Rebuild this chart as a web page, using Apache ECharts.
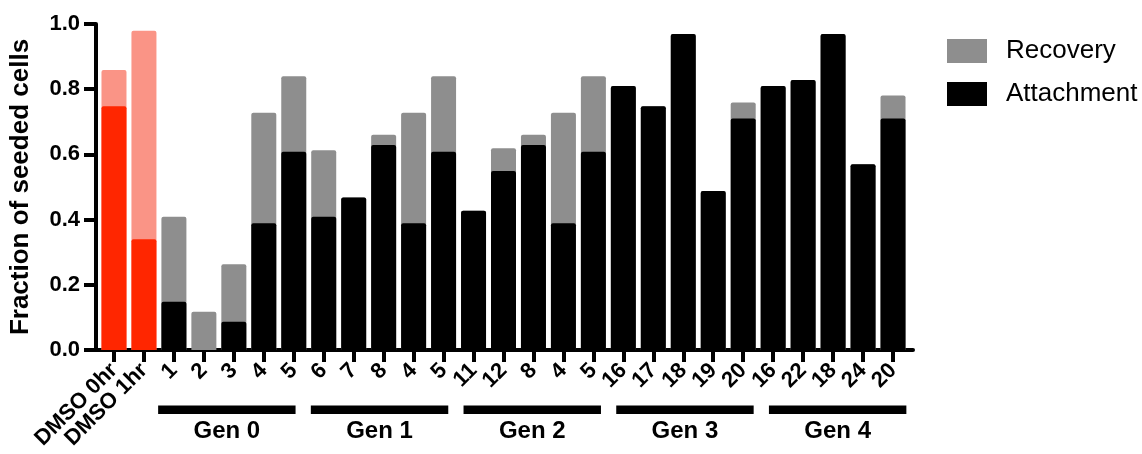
<!DOCTYPE html>
<html>
<head>
<meta charset="utf-8">
<script src="https://cdn.jsdelivr.net/npm/echarts@6/dist/echarts.min.js"></script>
<style>
  html, body { margin: 0; padding: 0; background: #fff; }
  #chart { width: 1142px; height: 454px; }
</style>
</head>
<body>
<div id="chart"></div>
<script>
// Compound labels along the x axis
const categories = ['DMSO 0hr', 'DMSO 1hr',
  '1', '2', '3', '4', '5',
  '6', '7', '8', '4', '5',
  '11', '12', '8', '4', '5',
  '16', '17', '18', '19', '20',
  '16', '22', '18', '24', '20'];

// Total fraction after recovery (drawn behind)
const recovery = [0.859, 0.979,
  0.409, 0.117, 0.263, 0.728, 0.840,
  0.613, 0.468, 0.660, 0.728, 0.840,
  0.427, 0.619, 0.660, 0.728, 0.840,
  0.810, 0.748, 0.969, 0.488, 0.759,
  0.810, 0.828, 0.969, 0.570, 0.781];

// Fraction attached (drawn in front)
const attachment = [0.748, 0.340,
  0.148, 0.000, 0.087, 0.389, 0.608,
  0.409, 0.468, 0.629, 0.389, 0.608,
  0.427, 0.549, 0.629, 0.389, 0.608,
  0.810, 0.748, 0.969, 0.488, 0.710,
  0.810, 0.828, 0.969, 0.570, 0.710];

// Generation brackets beneath the axis
const generations = ['Gen 0', 'Gen 1', 'Gen 2', 'Gen 3', 'Gen 4'];
const generationSpan = [1, 1, 1, 1, 1];

const yTicks = [0, 0.2, 0.4, 0.6, 0.8, 1.0];

const controlCount = 2;
const FONT = '"Liberation Sans", Arial, Helvetica, sans-serif';
const GREY = '#8e8e8e';
const CONTROL_LIGHT = '#fa9486';
const CONTROL_DARK = '#ff2600';

const recoveryData = recovery.map((v, i) =>
  i < controlCount ? { value: v, itemStyle: { color: CONTROL_LIGHT } } : v);
const attachmentData = attachment.map((v, i) =>
  i < controlCount ? { value: v, itemStyle: { color: CONTROL_DARK } } : v);

const chart = echarts.init(document.getElementById('chart'), null, { renderer: 'canvas' });

const axisStroke = { color: '#000', width: 4 };

chart.setOption({
  animation: false,
  backgroundColor: '#fff',
  grid: [
    { left: 99, top: 24, width: 809, height: 326 },
    { left: 94.5, top: 24, width: 818.5, height: 326 },
    { left: 150.5, top: 405.5, width: 763.5, height: 8.5 }
  ],
  legend: {
    data: ['Recovery', 'Attachment'],
    orient: 'vertical',
    left: 947,
    top: 38,
    padding: 0,
    icon: 'rect',
    itemWidth: 40,
    itemHeight: 24,
    itemGap: 17,
    selectedMode: false,
    textStyle: { fontFamily: FONT, fontSize: 26, color: '#000', padding: [0, 0, 0, 14] }
  },
  xAxis: [
    {
      gridIndex: 0,
      type: 'category',
      data: categories,
      axisLine: { show: false },
      axisTick: { show: true, alignWithLabel: true, length: 12, lineStyle: axisStroke },
      axisLabel: {
        interval: 0, rotate: 45, margin: 17,
        fontFamily: FONT, fontSize: 22, fontWeight: 'bold', color: '#000'
      },
      splitLine: { show: false }
    },
    {
      gridIndex: 1,
      type: 'value',
      min: 0, max: 1,
      axisLine: { show: true, lineStyle: axisStroke },
      axisTick: { show: false },
      axisLabel: { show: false },
      splitLine: { show: false }
    },
    {
      gridIndex: 2,
      type: 'category',
      data: generations,
      axisLine: { show: false },
      axisTick: { show: false },
      axisLabel: {
        interval: 0, margin: 5,
        fontFamily: FONT, fontSize: 24, fontWeight: 'bold', color: '#000'
      },
      splitLine: { show: false }
    }
  ],
  yAxis: [
    { gridIndex: 0, type: 'value', min: 0, max: 1, show: false },
    {
      gridIndex: 1,
      type: 'value',
      min: yTicks[0],
      max: yTicks[yTicks.length - 1],
      interval: 0.2,
      name: 'Fraction of seeded cells',
      nameLocation: 'middle',
      nameRotate: 90,
      nameGap: 62,
      nameTextStyle: { fontFamily: FONT, fontSize: 26, fontWeight: 'bold', color: '#000' },
      axisLine: { show: true, lineStyle: axisStroke },
      axisTick: { show: true, length: 12, lineStyle: axisStroke },
      axisLabel: {
        margin: 16,
        fontFamily: FONT, fontSize: 22, fontWeight: 'bold', color: '#000',
        formatter: v => v.toFixed(1)
      },
      splitLine: { show: false }
    },
    { gridIndex: 2, type: 'value', min: 0, max: 1, show: false }
  ],
  series: [
    {
      name: 'Recovery',
      type: 'bar',
      xAxisIndex: 0, yAxisIndex: 0,
      data: recoveryData,
      barWidth: 25,
      barGap: '-100%',
      itemStyle: { color: GREY, borderRadius: [2, 2, 0, 0] },
      z: 2
    },
    {
      name: 'Attachment',
      type: 'bar',
      xAxisIndex: 0, yAxisIndex: 0,
      data: attachmentData,
      barWidth: 25,
      barGap: '-100%',
      itemStyle: { color: '#000', borderRadius: [2, 2, 0, 0] },
      z: 3
    },
    {
      name: 'Generation',
      type: 'bar',
      xAxisIndex: 2, yAxisIndex: 2,
      data: generationSpan,
      barCategoryGap: '10%',
      itemStyle: { color: '#000' },
      silent: true
    }
  ]
});
</script>
</body>
</html>
